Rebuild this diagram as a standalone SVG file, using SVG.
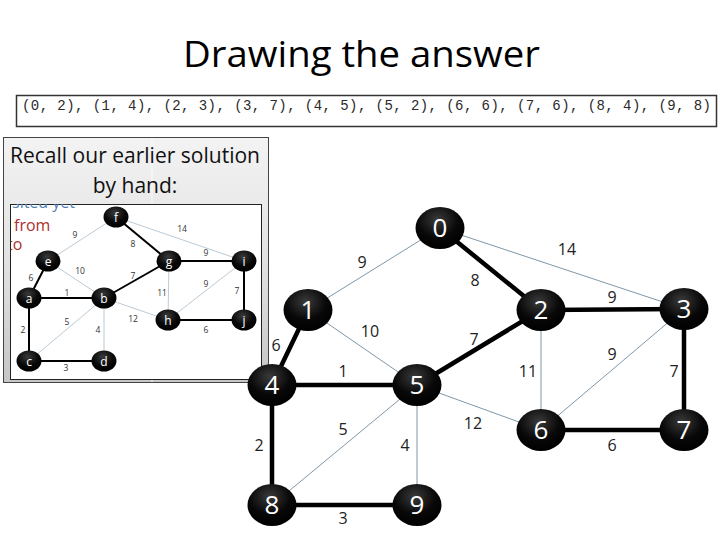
<svg xmlns="http://www.w3.org/2000/svg" width="720" height="540" viewBox="0 0 720 540">
<defs>
<radialGradient id="ng" cx="0.45" cy="0.3" r="0.7">
<stop offset="0" stop-color="#3a3a3a"/>
<stop offset="0.6" stop-color="#080808"/>
<stop offset="1" stop-color="#000"/>
</radialGradient>
<linearGradient id="pg" x1="0" y1="0" x2="0" y2="1">
<stop offset="0" stop-color="#f3f3f3"/>
<stop offset="0.5" stop-color="#e2e2e2"/>
<stop offset="1" stop-color="#c6c6c6"/>
</linearGradient>
<clipPath id="ic"><rect x="11" y="204" width="250" height="175"/></clipPath>
<style>
.title{font-family:"Open Sans","Liberation Sans",sans-serif;font-size:36px;fill:#000}
.code{font-family:"Liberation Mono","DejaVu Sans Mono",monospace;font-size:14px;fill:#2a2a2a}
.ptxt{font-family:"Open Sans","Liberation Sans",sans-serif;font-size:21px;fill:#111;text-anchor:middle}
.thick{stroke:#000;stroke-width:4.5;stroke-linecap:round}
.thin{stroke:#7f97a8;stroke-width:1}
.ithick{stroke:#000;stroke-width:2}
.ithin{stroke:#9fb3c3;stroke-width:0.7}
.node{fill:url(#ng)}
.nl{font-family:"Open Sans","Liberation Sans",sans-serif;font-size:26px;fill:#fff;text-anchor:middle}
.el{font-family:"Open Sans","Liberation Sans",sans-serif;font-size:16px;fill:#222;text-anchor:middle}
.inl{font-family:"Open Sans","Liberation Sans",sans-serif;font-size:12px;fill:#fff;text-anchor:middle}
.iel{font-family:"Open Sans","Liberation Sans",sans-serif;font-size:8.5px;fill:#333;text-anchor:middle}
</style>
</defs>
<rect width="720" height="540" fill="#fff"/>
<text class="title" x="183" y="67" textLength="357" lengthAdjust="spacingAndGlyphs">Drawing the answer</text>
<rect x="16.5" y="95.5" width="700" height="31" fill="#fff" stroke="#333" stroke-width="1.5"/>
<text class="code" x="22" y="110" textLength="689" lengthAdjust="spacing">(0, 2), (1, 4), (2, 3), (3, 7), (4, 5), (5, 2), (6, 6), (7, 6), (8, 4), (9, 8)</text>

<g id="panel">
<rect x="3.5" y="137.5" width="265" height="245" fill="url(#pg)" stroke="#444" stroke-width="1"/>
<line x1="152" y1="138" x2="152" y2="382" stroke="#fafafa" stroke-width="1"/>
<text class="ptxt" x="135" y="163" textLength="250" lengthAdjust="spacingAndGlyphs">Recall our earlier solution</text>
<text class="ptxt" x="135" y="193">by hand:</text>
<rect x="10.5" y="204.5" width="251" height="175" fill="#fff" stroke="#222" stroke-width="1"/>
<g clip-path="url(#ic)" font-family="Open Sans, Liberation Sans, sans-serif" font-size="16px">
<text x="12" y="207.5" fill="#4f7fb8">sited yet</text>
<text x="14" y="231" fill="#b03030">from</text>
<text x="7" y="250" fill="#b03030">to</text>
</g>
<g id="inner-edges">
<line class="ithin" x1="48" y1="261" x2="116" y2="217"/>
<line class="ithin" x1="116" y1="217" x2="244" y2="261"/>
<line class="ithin" x1="48" y1="261" x2="104" y2="298"/>
<line class="ithin" x1="169" y1="261" x2="168" y2="320"/>
<line class="ithin" x1="244" y1="261" x2="168" y2="320"/>
<line class="ithin" x1="104" y1="298" x2="168" y2="320"/>
<line class="ithin" x1="104" y1="298" x2="29" y2="361"/>
<line class="ithin" x1="104" y1="298" x2="104" y2="361"/>
<line class="ithick" x1="116" y1="217" x2="169" y2="261"/>
<line class="ithick" x1="169" y1="261" x2="244" y2="261"/>
<line class="ithick" x1="244" y1="261" x2="244" y2="320"/>
<line class="ithick" x1="168" y1="320" x2="244" y2="320"/>
<line class="ithick" x1="104" y1="298" x2="169" y2="261"/>
<line class="ithick" x1="48" y1="261" x2="29" y2="298"/>
<line class="ithick" x1="29" y1="298" x2="104" y2="298"/>
<line class="ithick" x1="29" y1="298" x2="29" y2="361"/>
<line class="ithick" x1="29" y1="361" x2="104" y2="361"/>
</g>
<g id="inner-edge-labels">
<text class="iel" x="75" y="238">9</text>
<text class="iel" x="182" y="232">14</text>
<text class="iel" x="133" y="247">8</text>
<text class="iel" x="206" y="256">9</text>
<text class="iel" x="80" y="274">10</text>
<text class="iel" x="31" y="281">6</text>
<text class="iel" x="133" y="279">7</text>
<text class="iel" x="206" y="287">9</text>
<text class="iel" x="162" y="296">11</text>
<text class="iel" x="237" y="294">7</text>
<text class="iel" x="67" y="296">1</text>
<text class="iel" x="67" y="325">5</text>
<text class="iel" x="133" y="322">12</text>
<text class="iel" x="98" y="333">4</text>
<text class="iel" x="206" y="333">6</text>
<text class="iel" x="23" y="333">2</text>
<text class="iel" x="66" y="371">3</text>
</g>
<g id="inner-f"><ellipse class="node" cx="116" cy="217" rx="12.5" ry="10.5"/><text class="inl" x="116" y="221.5">f</text></g>
<g id="inner-e"><ellipse class="node" cx="48" cy="261" rx="12.5" ry="10.5"/><text class="inl" x="48" y="265.5">e</text></g>
<g id="inner-g"><ellipse class="node" cx="169" cy="261" rx="12.5" ry="10.5"/><text class="inl" x="169" y="265.5">g</text></g>
<g id="inner-i"><ellipse class="node" cx="244" cy="261" rx="12.5" ry="10.5"/><text class="inl" x="244" y="265.5">i</text></g>
<g id="inner-a"><ellipse class="node" cx="29" cy="298" rx="12.5" ry="10.5"/><text class="inl" x="29" y="302.5">a</text></g>
<g id="inner-b"><ellipse class="node" cx="104" cy="298" rx="12.5" ry="10.5"/><text class="inl" x="104" y="302.5">b</text></g>
<g id="inner-h"><ellipse class="node" cx="168" cy="320" rx="12.5" ry="10.5"/><text class="inl" x="168" y="324.5">h</text></g>
<g id="inner-j"><ellipse class="node" cx="244" cy="320" rx="12.5" ry="10.5"/><text class="inl" x="244" y="324.5">j</text></g>
<g id="inner-c"><ellipse class="node" cx="29" cy="361" rx="12.5" ry="10.5"/><text class="inl" x="29" y="365.5">c</text></g>
<g id="inner-d"><ellipse class="node" cx="104" cy="361" rx="12.5" ry="10.5"/><text class="inl" x="104" y="365.5">d</text></g>
</g>

<g id="connectors">
<line class="thin" x1="440" y1="228" x2="308" y2="310"/>
<line class="thin" x1="440" y1="228" x2="684" y2="309"/>
<line class="thin" x1="308" y1="310" x2="417" y2="385"/>
<line class="thin" x1="541" y1="310" x2="541" y2="430"/>
<line class="thin" x1="684" y1="309" x2="541" y2="430"/>
<line class="thin" x1="417" y1="385" x2="541" y2="430"/>
<line class="thin" x1="417" y1="385" x2="272" y2="505"/>
<line class="thin" x1="417" y1="385" x2="417" y2="505"/>
<line class="thick" x1="440" y1="228" x2="541" y2="310"/>
<line class="thick" x1="541" y1="310" x2="684" y2="309"/>
<line class="thick" x1="684" y1="309" x2="684" y2="430"/>
<line class="thick" x1="541" y1="430" x2="684" y2="430"/>
<line class="thick" x1="541" y1="310" x2="417" y2="385" stroke-width="5"/>
<line class="thick" x1="308" y1="310" x2="272" y2="385"/>
<line class="thick" x1="272" y1="385" x2="417" y2="385"/>
<line class="thick" x1="272" y1="385" x2="272" y2="505"/>
<line class="thick" x1="272" y1="505" x2="417" y2="505"/>
</g>
<g id="edge-labels">
<text class="el" x="362" y="268">9</text>
<text class="el" x="475" y="286">8</text>
<text class="el" x="567" y="255">14</text>
<text class="el" x="276" y="351">6</text>
<text class="el" x="370" y="337">10</text>
<text class="el" x="612" y="303">9</text>
<text class="el" x="474" y="345">7</text>
<text class="el" x="528" y="377">11</text>
<text class="el" x="612" y="360">9</text>
<text class="el" x="674" y="377">7</text>
<text class="el" x="343" y="377">1</text>
<text class="el" x="473" y="429">12</text>
<text class="el" x="612" y="451">6</text>
<text class="el" x="259" y="451">2</text>
<text class="el" x="343" y="435">5</text>
<text class="el" x="405" y="451">4</text>
<text class="el" x="343" y="524">3</text>
</g>
<g id="n0"><ellipse class="node" cx="440" cy="228" rx="24.5" ry="21"/><text class="nl" x="440" y="237">0</text></g>
<g id="n1"><ellipse class="node" cx="308" cy="310" rx="24.5" ry="21"/><text class="nl" x="308" y="319">1</text></g>
<g id="n2"><ellipse class="node" cx="541" cy="310" rx="24.5" ry="21"/><text class="nl" x="541" y="319">2</text></g>
<g id="n3"><ellipse class="node" cx="684" cy="309" rx="24.5" ry="21"/><text class="nl" x="684" y="318">3</text></g>
<g id="n4"><ellipse class="node" cx="272" cy="385" rx="24.5" ry="21"/><text class="nl" x="272" y="394">4</text></g>
<g id="n5"><ellipse class="node" cx="417" cy="385" rx="24.5" ry="21"/><text class="nl" x="417" y="394">5</text></g>
<g id="n6"><ellipse class="node" cx="541" cy="430" rx="24.5" ry="21"/><text class="nl" x="541" y="439">6</text></g>
<g id="n7"><ellipse class="node" cx="684" cy="430" rx="24.5" ry="21"/><text class="nl" x="684" y="439">7</text></g>
<g id="n8"><ellipse class="node" cx="272" cy="505" rx="24.5" ry="21"/><text class="nl" x="272" y="514">8</text></g>
<g id="n9"><ellipse class="node" cx="417" cy="505" rx="24.5" ry="21"/><text class="nl" x="417" y="514">9</text></g>
</svg>
